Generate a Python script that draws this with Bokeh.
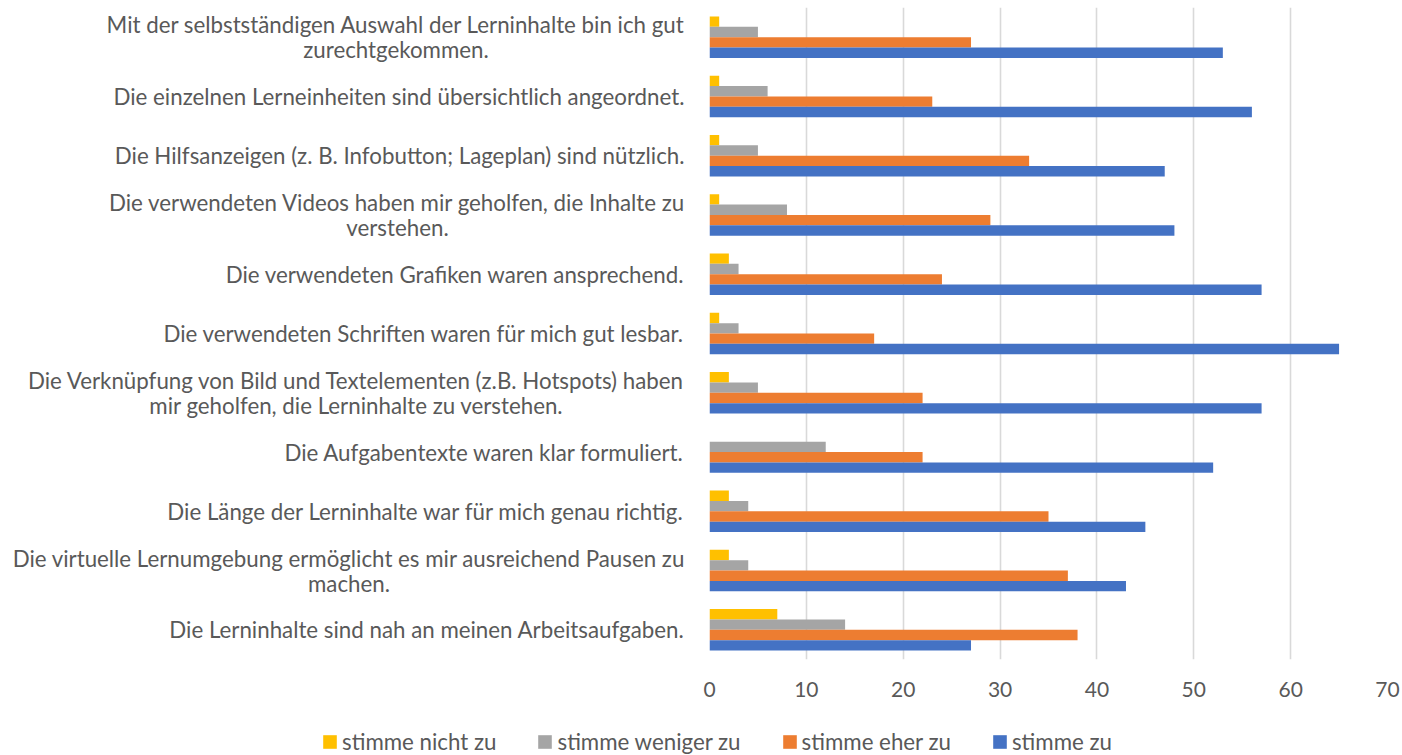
from bokeh.plotting import figure
from bokeh.models import FactorRange, Range1d, Legend, LegendItem, ColumnDataSource, FixedTicker
from bokeh.core.properties import value
from bokeh.layouts import row, column
from bokeh.transform import dodge
from bokeh.embed import file_html
from bokeh.resources import INLINE

# ---- data (top to bottom as in the chart) ----
categories = [
    "Mit der selbstständigen Auswahl der Lerninhalte bin ich gut\nzurechtgekommen.",
    "Die einzelnen Lerneinheiten sind übersichtlich angeordnet.",
    "Die Hilfsanzeigen (z. B. Infobutton; Lageplan) sind nützlich.",
    "Die verwendeten Videos haben mir geholfen, die Inhalte zu\nverstehen.",
    "Die verwendeten Grafiken waren ansprechend.",
    "Die verwendeten Schriften waren für mich gut lesbar.",
    "Die Verknüpfung von Bild und Textelementen (z.B. Hotspots) haben\nmir geholfen, die Lerninhalte zu verstehen.",
    "Die Aufgabentexte waren klar formuliert.",
    "Die Länge der Lerninhalte war für mich genau richtig.",
    "Die virtuelle Lernumgebung ermöglicht es mir ausreichend Pausen zu\nmachen.",
    "Die Lerninhalte sind nah an meinen Arbeitsaufgaben.",
]
stimme_nicht_zu = [1, 1, 1, 1, 2, 1, 2, 0, 2, 2, 7]
stimme_weniger_zu = [5, 6, 5, 8, 3, 3, 5, 12, 4, 4, 14]
stimme_eher_zu = [27, 23, 33, 29, 24, 17, 22, 22, 35, 37, 38]
stimme_zu = [53, 56, 47, 48, 57, 65, 57, 52, 45, 43, 27]
series_names = ["stimme nicht zu", "stimme weniger zu", "stimme eher zu", "stimme zu"]
x_ticks = [0, 10, 20, 30, 40, 50, 60, 70]

# ---- styling / layout ----
series_colors = ["#FFC000", "#A5A5A5", "#ED7D31", "#4472C4"]
FONT = "Lato"
TXT = "#595959"
LABEL_SIZE = "22.3px"
TOP_H = 710          # height of label + chart row
LABEL_W = 699        # width of the label panel

y_range = FactorRange(factors=list(reversed(categories)))

source = ColumnDataSource(data=dict(
    cat=categories,
    s0=stimme_nicht_zu,
    s1=stimme_weniger_zu,
    s2=stimme_eher_zu,
    s3=stimme_zu,
))

# ---------------- main chart ----------------
p = figure(
    width=1402 - LABEL_W, height=TOP_H,
    y_range=y_range, x_range=Range1d(0, 70),
    output_backend="svg", toolbar_location=None,
    min_border_left=10, min_border_right=15,
    min_border_top=7, min_border_bottom=TOP_H - 659,
)
p.outline_line_color = None
p.border_fill_color = "white"

bar_h = 0.175
offsets = [0.2625, 0.0875, -0.0875, -0.2625]
for i, col in enumerate(series_colors):
    p.hbar(y=dodge("cat", offsets[i], range=y_range), right="s%d" % i, left=0,
           height=bar_h, source=source, fill_color=col, line_color=None)

p.xaxis.ticker = FixedTicker(ticks=x_ticks)
p.xaxis.axis_line_color = None
p.xaxis.major_tick_line_color = None
p.xaxis.minor_tick_line_color = None
p.xaxis.major_label_text_font = FONT
p.xaxis.major_label_text_font_size = "21px"
p.xaxis.major_label_text_color = TXT
p.xaxis.major_label_standoff = 16
p.yaxis.visible = False
p.ygrid.grid_line_color = None
p.xgrid.grid_line_color = "#D9D9D9"
p.xgrid.grid_line_width = 1.6
p.xgrid.ticker = FixedTicker(ticks=x_ticks)

# ---------------- category labels panel ----------------
lp = figure(
    width=LABEL_W, height=TOP_H,
    y_range=y_range, x_range=Range1d(0, LABEL_W),
    output_backend="svg", toolbar_location=None,
    min_border_left=0, min_border_right=0,
    min_border_top=7, min_border_bottom=TOP_H - 659,
    x_axis_location=None, y_axis_location=None,
)
lp.outline_line_color = None
lp.xgrid.visible = False
lp.ygrid.visible = False

right_edge = 684
single = [c for c in categories if "\n" not in c]
double = [c for c in categories if "\n" in c]
double_centres = [395.5, 397, 356, 348.5]   # centre of the wrapped lines
src_single = ColumnDataSource(data=dict(y=single, x=[right_edge] * len(single), t=single))
src_double = ColumnDataSource(data=dict(y=double, x=double_centres, t=double))
for src, align in ((src_single, "right"), (src_double, "center")):
    lp.text(x="x", y="y", text="t", source=src,
            text_align=align, text_baseline="middle",
            text_font=value(FONT), text_font_size=value(LABEL_SIZE), text_color=TXT,
            text_line_height=0.93)

# ---------------- legend panel ----------------
lg = figure(
    width=1402, height=755 - TOP_H,
    x_range=Range1d(0, 1), y_range=Range1d(0, 1),
    output_backend="svg", toolbar_location=None,
    min_border_left=0, min_border_right=0, min_border_top=0, min_border_bottom=0,
    x_axis_location=None, y_axis_location=None,
)
lg.outline_line_color = None
lg.xgrid.visible = False
lg.ygrid.visible = False
# off-screen swatch sources so the legend can draw its colour keys
swatch = ColumnDataSource(data=dict(y=[-10], r=[-10]))
leg_renderers = [lg.hbar(y="y", right="r", left=-20, height=0.1, source=swatch,
                         fill_color=c, line_color=None) for c in series_colors]
legend = Legend(
    items=[LegendItem(label=n, renderers=[r]) for n, r in zip(series_names, leg_renderers)],
    orientation="horizontal",
    location=(321, 0),
    glyph_width=17, glyph_height=17,
    label_standoff=4, spacing=40, padding=0, margin=0,
    label_text_font=FONT, label_text_font_size=LABEL_SIZE, label_text_color=TXT,
    border_line_color=None, background_fill_alpha=0,
)
lg.add_layout(legend, "center")

layout = column(row(lp, p), lg)
open("out.html", "w").write(file_html(layout, INLINE))
